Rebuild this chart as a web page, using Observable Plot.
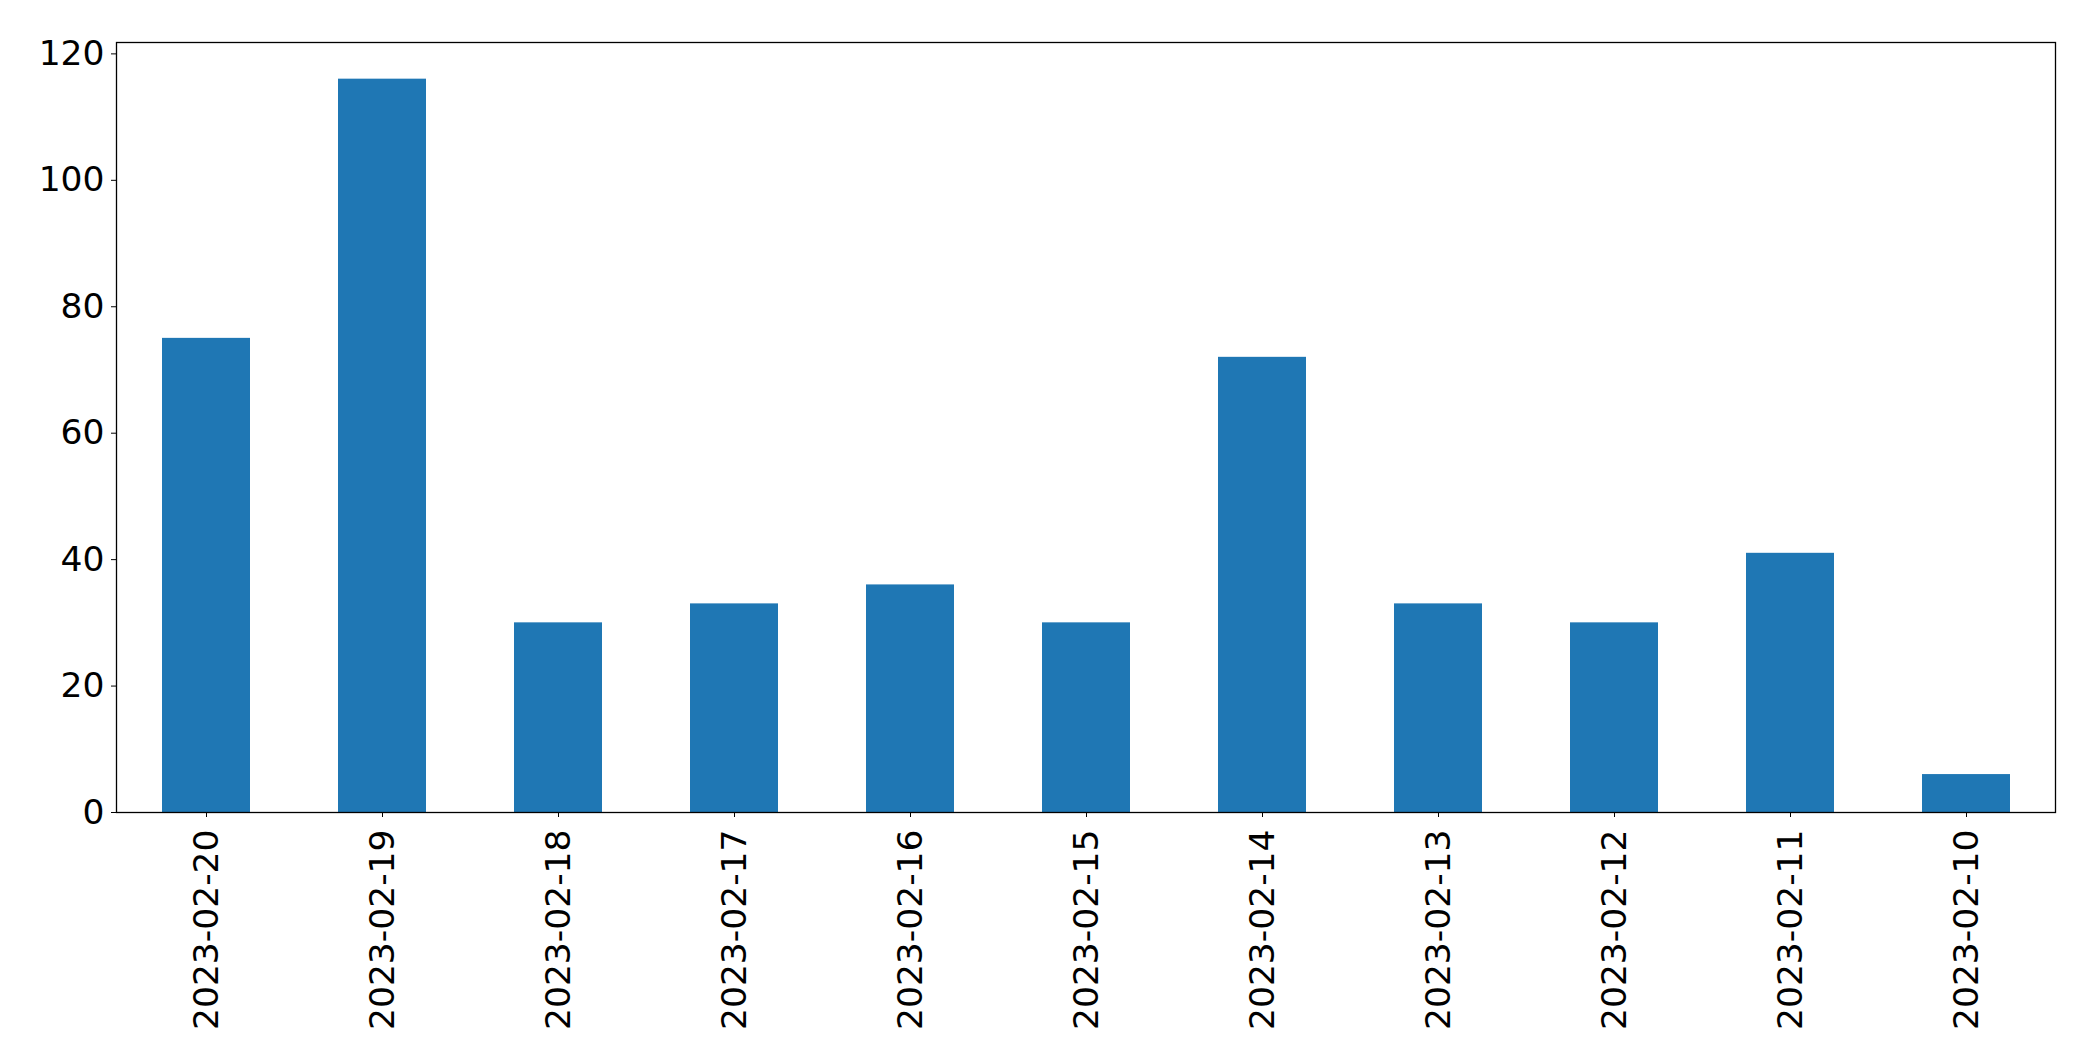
<!DOCTYPE html>
<html>
<head>
<meta charset="utf-8">
<script src="https://cdn.jsdelivr.net/npm/d3@7"></script>
<script src="https://cdn.jsdelivr.net/npm/@observablehq/plot@0.6"></script>
<style>
  html, body { margin: 0; padding: 0; background: #fff; }
  #chart svg { display: block; }
</style>
</head>
<body>
<div id="chart"></div>
<script>
const dates = ["2023-02-20","2023-02-19","2023-02-18","2023-02-17","2023-02-16","2023-02-15","2023-02-14","2023-02-13","2023-02-12","2023-02-11","2023-02-10"];
const counts = [75, 116, 30, 33, 36, 30, 72, 33, 30, 41, 6];
const yTicks = [0, 20, 40, 60, 80, 100, 120];

const data = dates.map((d, i) => ({date: d, count: counts[i]}));

const chart = Plot.plot({
  width: 2093,
  height: 1064,
  marginLeft: 116,
  marginRight: 38,
  marginTop: 42,
  marginBottom: 252,
  style: {fontFamily: "DejaVu Sans", fontSize: "34.5px", color: "#000", background: "#fff"},
  x: {domain: dates, paddingInner: 0.5, paddingOuter: 0.25, label: null},
  y: {domain: [0, 121.8], label: null},
  marks: [
    Plot.barY(data, {x: "date", y: "count", fill: "#1f77b4"}),
    Plot.frame({stroke: "#000", strokeWidth: 1.3}),
    Plot.axisY({ticks: yTicks, tickSize: 5, tickPadding: 7, fontSize: 34.5, label: null, stroke: "#000"}),
    Plot.axisX({tickSize: 5, tickPadding: 12, tickRotate: -90, fontSize: 34.5, label: null, stroke: "#000"})
  ]
});
document.getElementById("chart").appendChild(chart);
</script>
</body>
</html>
